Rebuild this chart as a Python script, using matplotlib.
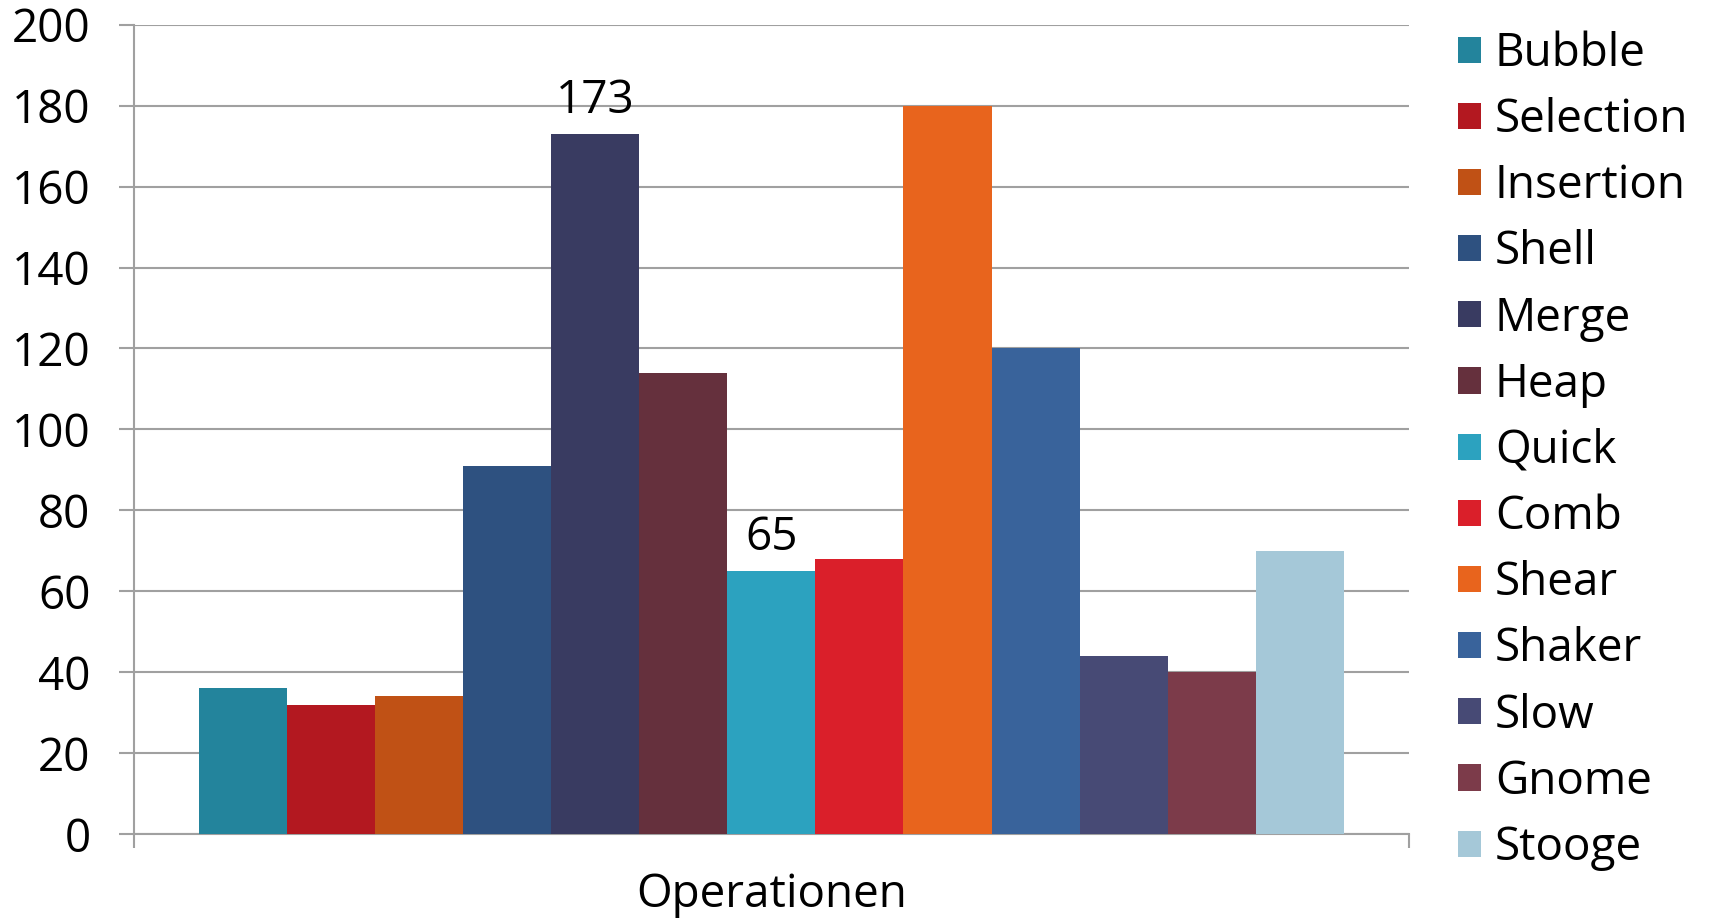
import numpy as np
import matplotlib
matplotlib.use('Agg')
import matplotlib.pyplot as plt

plt.rcParams['font.family'] = ['Open Sans', 'DejaVu Sans']

# data
algorithms = ['Bubble', 'Selection', 'Insertion', 'Shell', 'Merge', 'Heap', 'Quick',
              'Comb', 'Shear', 'Shaker', 'Slow', 'Gnome', 'Stooge']
values = [36, 32, 34, 91, 173, 114, 65, 68, 180, 120, 44, 40, 70]
colors = ['#23849C', '#B31820', '#C05115', '#2E5180', '#393B61', '#65303D', '#2CA2BF',
          '#DA1F2A', '#E8641D', '#39639B', '#474A75', '#7C3B4A', '#A5C8D8']
labelled = {'Merge': '173', 'Quick': '65'}
category = 'Operationen'
yticks = [0, 20, 40, 60, 80, 100, 120, 140, 160, 180, 200]

grey = '#a0a0a0'
fs = 33

fig = plt.figure(figsize=(17.13, 9.18), dpi=100)
ax = fig.add_axes([0.078, 0.0915, 0.7447, 0.8815])

n = len(values)
group = 0.897
w = group / n
x0 = -group / 2 + w / 2
for i, (name, v, c) in enumerate(zip(algorithms, values, colors)):
    xi = x0 + i * w
    ax.bar(xi, v, width=w, color=c, label=name, zorder=3, linewidth=0)
    if name in labelled:
        ax.text(xi, v + 2.5, labelled[name], ha='center', va='bottom', fontsize=fs, zorder=4)

ax.set_xlim(-0.5, 0.5)
ax.set_ylim(0, 200)
ax.set_yticks(yticks)
ax.tick_params(axis='y', labelsize=fs, length=11, width=1.5, color=grey, pad=20)
ax.yaxis.grid(True, color=grey, linewidth=1.5)
ax.set_axisbelow(True)

ax.set_xticks([0])
ax.set_xticklabels([category])
ax.set_xticks([-0.5, 0.5], minor=True)
ax.tick_params(axis='x', which='major', length=0, labelsize=fs, pad=27)
ax.tick_params(axis='x', which='minor', length=10, width=1.5, color=grey, direction='out')

for s in ['top', 'right']:
    ax.spines[s].set_visible(False)
for s in ['left', 'bottom']:
    ax.spines[s].set_color(grey)
    ax.spines[s].set_linewidth(1.5)

ax.legend(loc='upper left', bbox_to_anchor=(1.024, 1.015), frameon=False, fontsize=fs,
          handlelength=0.5, handleheight=0.5, handletextpad=0.3, labelspacing=0.44,
          borderaxespad=0)

fig.savefig('out.png', dpi=100)
